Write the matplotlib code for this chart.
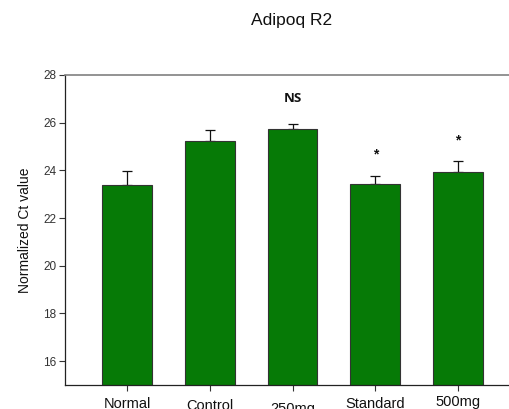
import matplotlib
matplotlib.use("Agg")
import matplotlib.pyplot as plt
import matplotlib.transforms as mtransforms
import numpy as np

plt.rcParams['font.family'] = ['Liberation Sans', 'DejaVu Sans']

groups = ["Normal", "Control", "250mg", "Standard", "500mg"]
means = [23.38, 25.24, 25.75, 23.44, 23.93]
sems = [0.60, 0.44, 0.21, 0.33, 0.47]
marks = ["", "", "NS", "*", "*"]
mark_y = [None, None, 27.0, 24.73, 25.34]
yticks = [16, 18, 20, 22, 24, 26, 28]

# vertical drop (pixels) of each category label below the axis
label_drop = [12, 14, 17, 12, 10]

fig = plt.figure(figsize=(5.09, 4.09), dpi=100)
ax = fig.add_axes([65 / 509, 24 / 409, 455 / 509, 310 / 409])

x = np.arange(len(groups))
ax.bar(x, means, width=0.6, color="#067a06", edgecolor="#333333",
       linewidth=0.8, zorder=2)
ax.errorbar(x, means, yerr=[np.zeros(len(sems)), sems], fmt="none",
            ecolor="#111111", elinewidth=0.9, capsize=3.6, capthick=0.9,
            zorder=1)

for xi, m, my in zip(x, marks, mark_y):
    if m == "NS":
        ax.text(xi, my, m, ha="center", va="center", fontsize=9.5,
                fontweight="bold", color="#111111",
                family=["Open Sans", "DejaVu Sans"])
    elif m:
        ax.text(xi, my - 0.08, m, ha="center", va="center", fontsize=10,
                fontweight="bold", color="#111111")

ax.set_xlim(-0.75, 4.75)
ax.set_ylim(15, 28)
ax.set_yticks(yticks)
ax.set_yticklabels([str(t) for t in yticks], fontsize=8.5, color="#333333")
ax.set_xticks(x)
ax.set_xticklabels([""] * len(groups))
ax.tick_params(axis="both", direction="out", length=4, width=0.8,
               color="#333333")
ax.tick_params(axis="y", pad=2)

trans = ax.get_xaxis_transform()
for xi, name, drop in zip(x, groups, label_drop):
    t = mtransforms.offset_copy(trans, fig=fig, x=0, y=-drop, units="dots")
    ax.text(xi, 0, name, transform=t, ha="center", va="top", fontsize=10.5,
            color="#111111", clip_on=False)

ax.set_ylabel("Normalized Ct value", fontsize=10, color="#111111",
              labelpad=8)

ax.spines["top"].set_color("#808080")
ax.spines["top"].set_linewidth(1.2)
ax.spines["right"].set_visible(False)
ax.spines["left"].set_color("#222222")
ax.spines["bottom"].set_color("#222222")
for s in ("left", "bottom"):
    ax.spines[s].set_linewidth(0.9)

fig.text(292 / 509, 1 - 20 / 409, "Adipoq R2", ha="center", va="center",
         fontsize=12.5, color="#111111")

fig.savefig("out.png", dpi=100)
